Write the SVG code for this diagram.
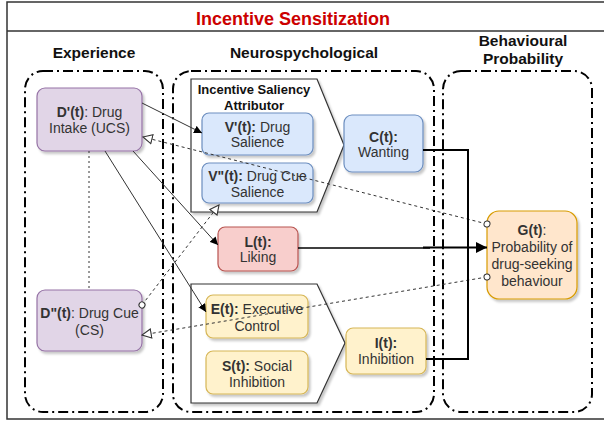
<svg xmlns="http://www.w3.org/2000/svg" width="604" height="423" viewBox="0 0 604 423">
<defs>
  <filter id="sh" x="-10%" y="-10%" width="130%" height="130%">
    <feDropShadow dx="2" dy="2.5" stdDeviation="1.2" flood-color="#000" flood-opacity="0.22"/>
  </filter>
  <marker id="block" viewBox="0 0 10 10" refX="10" refY="5" markerWidth="8" markerHeight="8" markerUnits="userSpaceOnUse" orient="auto">
    <path d="M0,0 L10,5 L0,10 z" fill="#000"/>
  </marker>
  <marker id="bigblock" viewBox="0 0 10 10" refX="10" refY="5" markerWidth="11" markerHeight="11" markerUnits="userSpaceOnUse" orient="auto">
    <path d="M0,0 L10,5 L0,10 z" fill="#000"/>
  </marker>
  <marker id="open" viewBox="0 0 12 12" refX="11" refY="6" markerWidth="11" markerHeight="11" markerUnits="userSpaceOnUse" orient="auto">
    <path d="M1,1 L11,6 L1,11 z" fill="#fff" stroke="#333" stroke-width="1.2"/>
  </marker>
  <marker id="oval" viewBox="0 0 8 8" refX="4" refY="4" markerWidth="8" markerHeight="8" markerUnits="userSpaceOnUse" orient="auto">
    <circle cx="4" cy="4" r="3" fill="#fff" stroke="#333" stroke-width="1"/>
  </marker>
</defs>
<style>
  text { font-family: "Liberation Sans", Arial, Helvetica, sans-serif; }
  .title { font-size: 18px; font-weight: bold; fill: #cc0000; }
  .hdr { font-size: 15.5px; font-weight: bold; fill: #111; }
  .lbl { font-size: 14px; fill: #333; }
  .sub { font-size: 13px; font-weight: bold; fill: #111; }
  .b { font-weight: bold; }
  .cont { fill: none; stroke: #000; stroke-width: 2; stroke-dasharray: 10 4 2 4; }
  .pent { fill: #fff; stroke: #333; stroke-width: 1.2; }
  .purple { fill: #e1d5e7; stroke: #9673a6; stroke-width: 1.2; }
  .blue { fill: #dae8fc; stroke: #6c8ebf; stroke-width: 1.2; }
  .red { fill: #f8cecc; stroke: #b85450; stroke-width: 1.2; }
  .yellow { fill: #fff2cc; stroke: #d6b656; stroke-width: 1.2; }
  .orange { fill: #ffe6cc; stroke: #d79b00; stroke-width: 1.2; }
  .solid { fill: none; stroke: #333; stroke-width: 1; }
  .dash { fill: none; stroke: #333; stroke-width: 1; stroke-dasharray: 3 3; }
  .dot { fill: none; stroke: #333; stroke-width: 1; stroke-dasharray: 2 3; }
  .thick { fill: none; stroke: #000; stroke-width: 2; }
</style>
<rect width="604" height="423" fill="#fff"/>
<g id="frame">
  <rect x="7" y="2" width="620" height="417" fill="none" stroke="#333" stroke-width="1.5"/>
  <line x1="7" y1="31" x2="604" y2="31" stroke="#333" stroke-width="1.5"/>
  <text class="title" x="293" y="25" text-anchor="middle">Incentive Sensitization</text>
</g>
<g id="containers">
  <g id="experience">
    <rect class="cont" x="25" y="71" width="138" height="341" rx="18"/>
    <text class="hdr" x="94" y="58" text-anchor="middle">Experience</text>
  </g>
  <g id="neuro">
    <rect class="cont" x="173" y="71" width="261" height="341" rx="18"/>
    <text class="hdr" x="304" y="58" text-anchor="middle">Neurospychological</text>
  </g>
  <g id="behavioural">
    <rect class="cont" x="443" y="71" width="149" height="341" rx="18"/>
    <text class="hdr" x="523" y="46" text-anchor="middle">Behavioural</text>
    <text class="hdr" x="523" y="64" text-anchor="middle">Probability</text>
  </g>
</g>
<g id="attributor">
  <polygon class="pent" filter="url(#sh)" points="191,79 317,79 344,145 317,212 191,212"/>
  <text class="sub" x="254" y="94" text-anchor="middle">Incentive Saliency</text>
  <text class="sub" x="254" y="110" text-anchor="middle">Attributor</text>
</g>
<g id="inhibitors">
  <polygon class="pent" filter="url(#sh)" points="191,284 317,284 345,343 317,403 191,403"/>
</g>
<g id="Dp">
  <rect class="purple" filter="url(#sh)" x="37" y="88" width="105" height="63" rx="8"/>
  <text class="lbl" x="89.5" y="117" text-anchor="middle"><tspan class="b">D'(t)</tspan>: Drug</text>
  <text class="lbl" x="89.5" y="133" text-anchor="middle">Intake (UCS)</text>
</g>
<g id="Dpp">
  <rect class="purple" filter="url(#sh)" x="37" y="290" width="105" height="61" rx="8"/>
  <text class="lbl" x="89.5" y="318" text-anchor="middle"><tspan class="b">D"(t)</tspan>: Drug Cue</text>
  <text class="lbl" x="89.5" y="335" text-anchor="middle">(CS)</text>
</g>
<g id="Vp">
  <rect class="blue" filter="url(#sh)" x="202" y="113" width="111" height="42" rx="7"/>
  <text class="lbl" x="257.5" y="132" text-anchor="middle"><tspan class="b">V'(t):</tspan> Drug</text>
  <text class="lbl" x="257.5" y="147" text-anchor="middle">Salience</text>
</g>
<g id="Vpp">
  <rect class="blue" filter="url(#sh)" x="202" y="163" width="111" height="40" rx="7"/>
  <text class="lbl" x="257.5" y="181" text-anchor="middle"><tspan class="b">V"(t):</tspan> Drug Cue</text>
  <text class="lbl" x="257.5" y="197" text-anchor="middle">Salience</text>
</g>
<g id="C">
  <rect class="blue" filter="url(#sh)" x="344" y="115" width="79" height="57" rx="8"/>
  <text class="lbl b" x="383.5" y="142" text-anchor="middle">C(t):</text>
  <text class="lbl" x="383.5" y="157" text-anchor="middle">Wanting</text>
</g>
<g id="L">
  <rect class="red" filter="url(#sh)" x="218" y="227" width="80" height="44" rx="7"/>
  <text class="lbl b" x="258" y="247" text-anchor="middle">L(t):</text>
  <text class="lbl" x="258" y="262" text-anchor="middle">Liking</text>
</g>
<g id="E">
  <rect class="yellow" filter="url(#sh)" x="206" y="295" width="102" height="43" rx="7"/>
  <text class="lbl" x="257" y="314" text-anchor="middle"><tspan class="b">E(t):</tspan> Executive</text>
  <text class="lbl" x="257" y="331" text-anchor="middle">Control</text>
</g>
<g id="S">
  <rect class="yellow" filter="url(#sh)" x="206" y="351" width="102" height="43" rx="7"/>
  <text class="lbl" x="257" y="371" text-anchor="middle"><tspan class="b">S(t):</tspan> Social</text>
  <text class="lbl" x="257" y="387" text-anchor="middle">Inhibition</text>
</g>
<g id="I">
  <rect class="yellow" filter="url(#sh)" x="346" y="328" width="80" height="46" rx="7"/>
  <text class="lbl b" x="386" y="348" text-anchor="middle">I(t):</text>
  <text class="lbl" x="386" y="364" text-anchor="middle">Inhibition</text>
</g>
<g id="G">
  <rect class="orange" filter="url(#sh)" x="487" y="211" width="90" height="88" rx="12"/>
  <text class="lbl" x="532" y="235" text-anchor="middle"><tspan class="b">G(t)</tspan>:</text>
  <text class="lbl" x="532" y="252" text-anchor="middle">Probability of</text>
  <text class="lbl" x="532" y="269" text-anchor="middle">drug-seeking</text>
  <text class="lbl" x="532" y="286" text-anchor="middle">behaviour</text>
</g>
<g id="connectors">
  <line class="dot" x1="89" y1="151" x2="89" y2="290"/>
  <line class="solid" x1="142" y1="103" x2="202" y2="133" marker-end="url(#block)"/>
  <line class="solid" x1="133" y1="151" x2="218" y2="245" marker-end="url(#block)"/>
  <line class="solid" x1="105" y1="151" x2="206" y2="312" marker-end="url(#block)"/>
  <line class="dash" x1="487" y1="224" x2="143" y2="137" marker-start="url(#oval)" marker-end="url(#open)"/>
  <line class="dash" x1="487" y1="277" x2="142" y2="335" marker-start="url(#oval)" marker-end="url(#open)"/>
  <line class="dash" x1="142" y1="305" x2="219" y2="205" marker-start="url(#oval)" marker-end="url(#open)"/>
  <path class="thick" d="M423,150 H468 V247"/>
  <path class="thick" d="M426,359 H468 V247"/>
  <path class="thick" d="M423,247.5 H487" marker-end="url(#bigblock)"/>
  <path fill="none" stroke="#000" stroke-width="1.5" d="M298,248 H430"/>
</g>
</svg>
